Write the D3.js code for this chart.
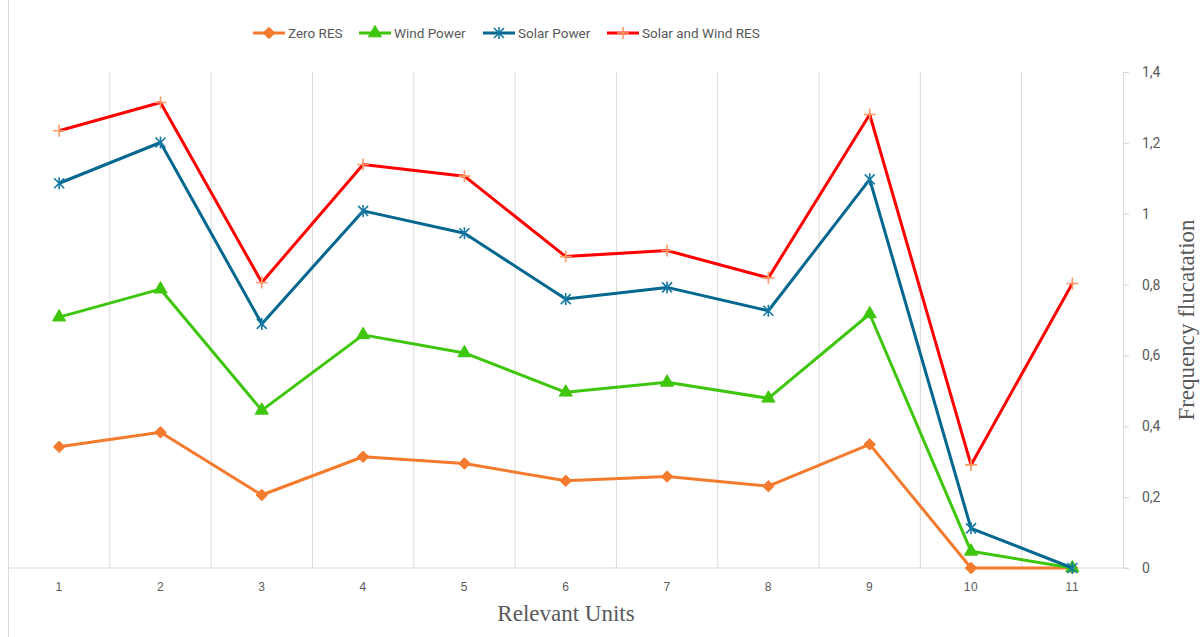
<!DOCTYPE html>
<html>
<head>
<meta charset="utf-8">
<script src="https://cdnjs.cloudflare.com/ajax/libs/d3/7.8.5/d3.min.js"></script>
<style>
  body { margin: 0; background: #fff; }
  svg { display: block; }
</style>
</head>
<body>
<svg id="chart"></svg>
<script>
// values
const units = ["1", "2", "3", "4", "5", "6", "7", "8", "9", "10", "11"];
const zeroRes = [0.342, 0.383, 0.206, 0.314, 0.295, 0.246, 0.258, 0.231, 0.349, 0, 0];
const windPower = [0.708, 0.787, 0.445, 0.658, 0.607, 0.496, 0.524, 0.479, 0.717, 0.047, 0];
const solarPower = [1.086, 1.201, 0.689, 1.008, 0.945, 0.759, 0.792, 0.726, 1.097, 0.112, 0];
const solarWindRes = [1.234, 1.314, 0.806, 1.139, 1.106, 0.879, 0.896, 0.819, 1.28, 0.291, 0.803];
const yTicks = [0, 0.2, 0.4, 0.6, 0.8, 1, 1.2, 1.4];

const seriesNames = ["Zero RES", "Wind Power", "Solar Power", "Solar and Wind RES"];

const W = 1204, H = 637;
const plotLeft = 8.5, plotRight = 1123, plotTop = 72, plotBottom = 568;
const gridCol = "#d9d9d9", textCol = "#595959";

var svg = d3.select("#chart").attr("width", W).attr("height", H);

var x = d3.scaleBand().domain(units).range([plotLeft, plotRight]).padding(0);
var y = d3.scaleLinear().domain([0, 1.4]).range([plotBottom, plotTop]);

// frame line on the left
svg.append("line")
  .attr("x1", plotLeft).attr("x2", plotLeft)
  .attr("y1", 0).attr("y2", H)
  .attr("stroke", gridCol);

// vertical gridlines between categories
svg.append("g").selectAll("line")
  .data(units.slice(1))
  .join("line")
  .attr("x1", d => x(d)).attr("x2", d => x(d))
  .attr("y1", plotTop).attr("y2", plotBottom)
  .attr("stroke", gridCol);

// x axis
var xAxis = svg.append("g")
  .attr("transform", "translate(0," + plotBottom + ")")
  .call(d3.axisBottom(x).tickSize(0).tickPadding(14));
xAxis.select(".domain").remove();
xAxis.selectAll("text")
  .attr("fill", textCol)
  .style("font-family", "'Liberation Sans', Arial, sans-serif")
  .style("font-size", "12px")
  .style("letter-spacing", "0.5px");

svg.append("line")
  .attr("x1", plotLeft).attr("x2", plotRight + 6)
  .attr("y1", plotBottom).attr("y2", plotBottom)
  .attr("stroke", gridCol);

// y axis on the right
var yAxis = svg.append("g")
  .attr("transform", "translate(" + plotRight + ",0)")
  .call(d3.axisRight(y).tickValues(yTicks).tickSizeOuter(0).tickSize(6).tickPadding(13)
    .tickFormat(d => String(d).replace(".", ",")));
yAxis.selectAll("path, line").attr("stroke", gridCol);
yAxis.selectAll("text")
  .attr("fill", textCol)
  .style("font-family", "Roboto, 'Liberation Sans', sans-serif")
  .style("font-size", "14px");

// axis titles
svg.append("text")
  .attr("x", 566).attr("y", 621)
  .attr("text-anchor", "middle")
  .attr("fill", textCol)
  .style("font-family", "'Liberation Serif', 'DejaVu Serif', serif")
  .style("font-size", "23px")
  .text("Relevant Units");

svg.append("text")
  .attr("transform", "translate(1194,320) rotate(-90)")
  .attr("text-anchor", "middle")
  .attr("fill", textCol)
  .style("font-family", "'Liberation Serif', 'DejaVu Serif', serif")
  .style("font-size", "23px")
  .text("Frequency flucatation");

// marker shapes
function markerPath(kind) {
  if (kind == "diamond") return d3.symbol().type(d3.symbolDiamond2).size(85)();
  if (kind == "triangle") return d3.symbol().type(d3.symbolTriangle).size(75)();
  if (kind == "asterisk") return "M-5,-5L5,5M-5,5L5,-5M0,-6V6";
  return "M-6,0H6M0,-6V6";
}

var seriesList = [
  [zeroRes, "#f47a2e", "diamond", "#f47a2e", true],
  [windPower, "#3ec60c", "triangle", "#3ec60c", true],
  [solarPower, "#04678f", "asterisk", "#1479a3", false],
  [solarWindRes, "#ff0000", "plus", "#f99a66", false]
];

var line = d3.line()
  .x((d, i) => x(units[i]) + x.bandwidth() / 2)
  .y(d => y(d));

seriesList.forEach(s => {
  svg.append("path")
    .datum(s[0])
    .attr("d", line)
    .attr("fill", "none")
    .attr("stroke", s[1])
    .attr("stroke-width", 3)
    .attr("stroke-linejoin", "round");

  svg.append("g").selectAll("path")
    .data(s[0])
    .join("path")
    .attr("transform", (d, i) => "translate(" + (x(units[i]) + x.bandwidth() / 2) + "," + y(d) + ")")
    .attr("d", markerPath(s[2]))
    .attr("fill", s[4] ? s[3] : "none")
    .attr("stroke", s[3])
    .attr("stroke-width", s[4] ? 1 : 1.6);
});

// legend
var legendX = [253, 359, 483, 607];
seriesList.forEach((s, i) => {
  var g = svg.append("g").attr("transform", "translate(" + legendX[i] + ",33)");
  g.append("line")
    .attr("x1", 0).attr("x2", 32)
    .attr("stroke", s[1]).attr("stroke-width", 3);
  g.append("path")
    .attr("transform", "translate(16,0)")
    .attr("d", markerPath(s[2]))
    .attr("fill", s[4] ? s[3] : "none")
    .attr("stroke", s[3])
    .attr("stroke-width", s[4] ? 1 : 1.6);
  g.append("text")
    .attr("x", 35).attr("y", 0).attr("dy", "0.35em")
    .attr("fill", textCol)
    .style("font-family", "Roboto, 'Liberation Sans', sans-serif")
    .style("font-size", "13.5px")
    .text(seriesNames[i]);
});
</script>
</body>
</html>
